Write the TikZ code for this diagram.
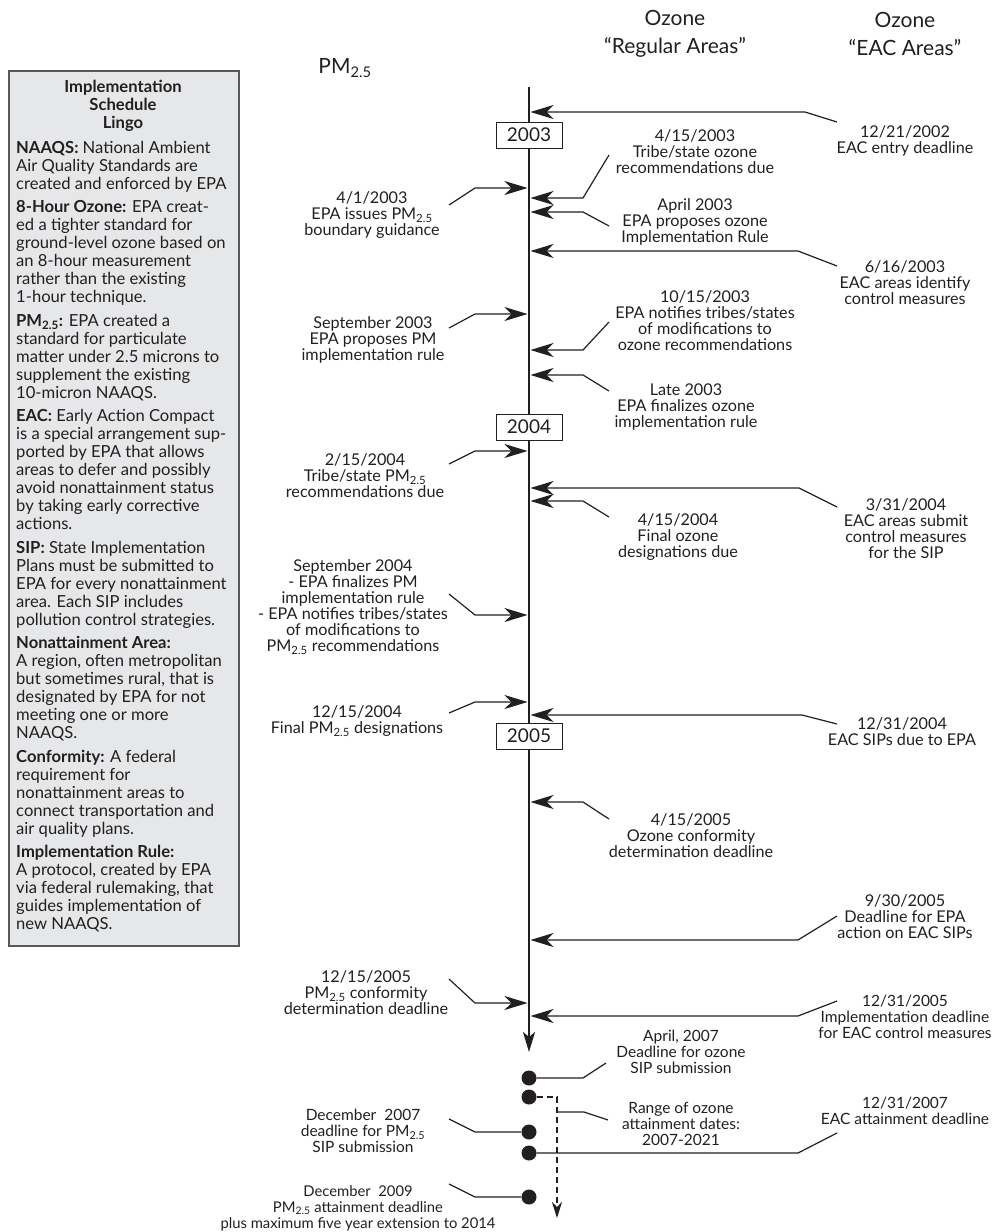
\documentclass[tikz,border=0pt]{standalone}
\usepackage{fontspec}
\setmainfont{Lato}
\usetikzlibrary{arrows.meta,positioning}
\definecolor{ink}{RGB}{35,31,32}
\definecolor{lingofill}{RGB}{230,231,232}
\definecolor{lingoedge}{RGB}{88,89,91}
\newcommand{\pmtf}{PM\textsubscript{2.5}}

\begin{document}
\begin{tikzpicture}[x=1pt,y=-1pt,
  head/.style={align=center, inner sep=0pt, text=ink, font=\fontsize{21}{28}\selectfont},
  evlabel/.style={align=center, inner sep=0pt, text=ink, font=\fontsize{16.2}{16}\selectfont},
  lingotext/.style={align=left, inner sep=0pt, text=ink, font=\fontsize{16.6}{18}\selectfont},
  lingohead/.style={align=center, inner sep=0pt, text=ink, font=\fontsize{16.6}{18}\selectfont\bfseries},
  lingo/.style={draw=lingoedge, fill=lingofill, line width=1.8pt, inner sep=0pt},
  yearbox/.style={draw=ink, fill=white, line width=0.8pt, minimum width=66pt, minimum height=26pt, inner sep=0pt, text=ink, font=\fontsize{19}{20}\selectfont},
  timeaxis/.style={draw=ink, line width=2.6pt, -{Stealth[length=20pt,width=12pt,inset=5pt]}},
  evline/.style={draw=ink, line width=1.2pt, -{Stealth[length=23pt,width=14pt,inset=7pt]}},
  knotline/.style={draw=ink, line width=1.2pt},
  evdot/.style={circle, fill=ink, inner sep=0pt, minimum size=15pt},
  rangeline/.style={draw=ink, line width=1.4pt, dash pattern=on 6pt off 4pt, -{Stealth[length=16pt,width=10pt,inset=5pt]}}]

\useasboundingbox (0,0) rectangle (1001,1232);

\node[head] (pmhead) at (345,68) {\pmtf};
\node[head] (reghead) at (675,34) {Ozone\\``Regular Areas''};
\node[head] (eachead) at (905,34) {Ozone\\``EAC Areas''};

\node[lingo, minimum width=230pt, minimum height=875pt, anchor=north west] (lingobox) at (8,70) {};
\node[lingohead] (lingotitle) at (123,106) {Implementation\\Schedule\\Lingo};
\node[lingotext, anchor=north west] (lingobody) at (16,141) {%
\textbf{NAAQS:} National Ambient\\
Air Quality Standards are\\
created and enforced by EPA\\[5.5pt]
\textbf{8-Hour Ozone:} EPA creat-\\
ed a tighter standard for\\
ground-level ozone based on\\
an 8-hour measurement\\
rather than the existing\\
1-hour technique.\\[5.5pt]
\textbf{\pmtf:} EPA created a\\
standard for particulate\\
matter under 2.5 microns to\\
supplement the existing\\
10-micron NAAQS.\\[5.5pt]
\textbf{EAC:} Early Action Compact\\
is a special arrangement sup-\\
ported by EPA that allows\\
areas to defer and possibly\\
avoid nonattainment status\\
by taking early corrective\\
actions.\\[5.5pt]
\textbf{SIP:} State Implementation\\
Plans must be submitted to\\
EPA for every nonattainment\\
area. Each SIP includes\\
pollution control strategies.\\[5.5pt]
\textbf{Nonattainment Area:}\\
A region, often metropolitan\\
but sometimes rural, that is\\
designated by EPA for not\\
meeting one or more\\
NAAQS.\\[5.5pt]
\textbf{Conformity:} A federal\\
requirement for\\
nonattainment areas to\\
connect transportation and\\
air quality plans.\\[5.5pt]
\textbf{Implementation Rule:}\\
A protocol, created by EPA\\
via federal rulemaking, that\\
guides implementation of\\
new NAAQS.};

\coordinate (axistop) at (529,87);
\coordinate (axisend) at (529,1052);
\draw[timeaxis] (axistop) -- (axisend);

\foreach \n/\y/\ey in {1/188/205, 2/314/328, 3/451/464, 4/615/594, 5/702/713, 6/1003/979} {
  \coordinate (pa\n) at (527.5,\y);
  \coordinate (ps\n) at (449,\ey);
  \draw[evline] (ps\n) -- (475,\y) -- (pa\n);
}
\foreach \n/\y/\ey in {1/198/155, 2/212/226, 3/350/322, 4/375/391, 5/501/517, 6/802/819} {
  \coordinate (ra\n) at (530.5,\y);
  \coordinate (rs\n) at (609,\ey);
  \draw[evline] (rs\n) -- (583,\y) -- (ra\n);
}
\foreach \n/\y/\kx/\ey in {1/112/805/122, 2/251/798/266, 3/488/799/507, 4/715/802/724, 5/940/798/916, 6/1016/798/1001} {
  \coordinate (ea\n) at (530.5,\y);
  \coordinate (es\n) at (837,\ey);
  \draw[evline] (es\n) -- (\kx,\y) -- (ea\n);
}

\node[yearbox] (y2003) at (529,135) {2003};
\node[yearbox] (y2004) at (529,427) {2004};
\node[yearbox] (y2005) at (529,736) {2005};

\node[evdot] (d1) at (529,1078) {};
\node[evdot] (d2) at (529,1097) {};
\node[evdot] (d3) at (529,1132) {};
\node[evdot] (d4) at (529,1153) {};
\node[evdot] (d5) at (529,1197) {};

\coordinate (rs7) at (606,1063);
\coordinate (rangeend) at (557,1218);
\coordinate (rangeknee) at (557,1112);
\coordinate (rs8) at (608,1120);
\coordinate (ps7) at (449,1119);
\coordinate (es7) at (837,1133);
\coordinate (ps8) at (449,1184);
\draw[knotline] (d1) -- (583,1078) -- (rs7);
\draw[rangeline] (d2) -- (557,1097) -- (rangeend);
\draw[knotline] (rangeknee) -- (584,1112) -- (rs8);
\draw[knotline] (d3) -- (475,1132) -- (ps7);
\draw[knotline] (d4) -- (798,1153) -- (es7);
\draw[knotline] (d5) -- (475,1197) -- (ps8);

\node[evlabel] (p1) at (372,215) {4/1/2003\\EPA issues \pmtf\\boundary guidance};
\node[evlabel] (p2) at (373,340) {September 2003\\EPA proposes PM\\implementation rule};
\node[evlabel] (p3) at (365,476) {2/15/2004\\Tribe/state \pmtf\\recommendations due};
\node[evlabel] (p4) at (353,607) {September 2004\\- EPA finalizes PM\\implementation rule\\- EPA notifies tribes/states\\of modifications to\\\pmtf{} recommendations};
\node[evlabel] (p5) at (357,721) {12/15/2004\\Final \pmtf{} designations};
\node[evlabel] (p6) at (366,993) {12/15/2005\\\pmtf{} conformity\\determination deadline};
\node[evlabel, font=\fontsize{15.5}{16}\selectfont] (p7) at (363,1131) {December\ \ 2007\\deadline for \pmtf\\SIP submission};
\node[evlabel, font=\fontsize{14.8}{16}\selectfont] (p8) at (358,1208) {December\ \ 2009\\\pmtf{} attainment deadline\\plus maximum five year extension to 2014};

\node[evlabel] (r1) at (695,152) {4/15/2003\\Tribe/state ozone\\recommendations due};
\node[evlabel] (r2) at (695,222) {April 2003\\EPA proposes ozone\\Implementation Rule};
\node[evlabel] (r3) at (705,321) {10/15/2003\\EPA notifies tribes/states\\of modifications to\\ozone recommendations};
\node[evlabel] (r4) at (686,407) {Late 2003\\EPA finalizes ozone\\implementation rule};
\node[evlabel] (r5) at (678,537) {4/15/2004\\Final ozone\\designations due};
\node[evlabel] (r6) at (691,836) {4/15/2005\\Ozone conformity\\determination deadline};
\node[evlabel, font=\fontsize{15.5}{16}\selectfont] (r7) at (681,1052) {April, 2007\\Deadline for ozone\\SIP submission};
\node[evlabel, font=\fontsize{15.5}{16}\selectfont] (r8) at (681,1124) {Range of ozone\\attainment dates:\\2007-2021};

\node[evlabel] (e1) at (905,141) {12/21/2002\\EAC entry deadline};
\node[evlabel] (e2) at (905,283) {6/16/2003\\EAC areas identify\\control measures};
\node[evlabel] (e3) at (906,529) {3/31/2004\\EAC areas submit\\control measures\\for the SIP};
\node[evlabel] (e4) at (902,732) {12/31/2004\\EAC SIPs due to EPA};
\node[evlabel] (e5) at (905,917) {9/30/2005\\Deadline for EPA\\action on EAC SIPs};
\node[evlabel, font=\fontsize{15.5}{16}\selectfont] (e6) at (905,1017) {12/31/2005\\Implementation deadline\\for EAC control measures};
\node[evlabel, font=\fontsize{15.5}{16}\selectfont] (e7) at (905,1111) {12/31/2007\\EAC attainment deadline};

\end{tikzpicture}
\end{document}
